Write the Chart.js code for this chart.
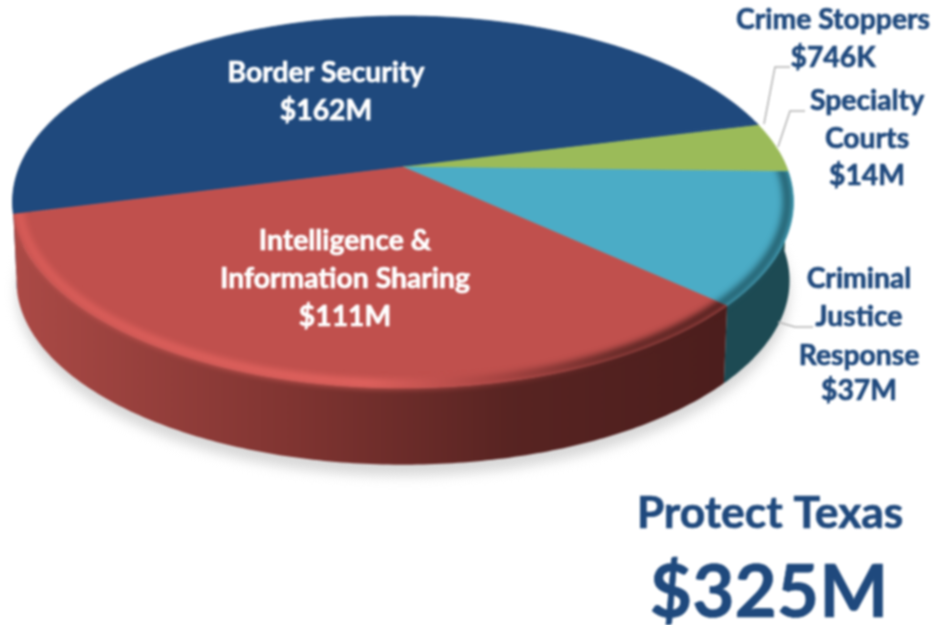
<!DOCTYPE html>
<html>
<head>
<meta charset="utf-8">
<title>Protect Texas</title>
<script src="https://cdn.jsdelivr.net/npm/chart.js@4/dist/chart.umd.min.js"></script>
<style>
html,body{margin:0;padding:0;background:#fff;overflow:hidden;}
canvas{display:block;filter:blur(0.8px);}
</style>
</head>
<body>
<canvas id="pie" width="947" height="625"></canvas>
<script>
// =========================
// Data
// =========================
const categories = ["Border Security","Crime Stoppers","Specialty Courts","Criminal Justice Response","Intelligence & Information Sharing"];
const values = [162,0.746,14,37,111];
const valueLabels = ["$162M","$746K","$14M","$37M","$111M"];
const title = "Protect Texas";
const total = "$325M";

// =========================
// Look
// =========================
const faceColors = ["#1f497d","#1f497d","#9bbb59","#4bacc6","#c0504d"];
const navy = "#1f497d";
const font = "Lato, 'Open Sans', sans-serif";

// the pie is tilted: circle angles go through a perspective mapping
const CX = 403, CY = 167, A = 179.4, B = 383.5, K = -0.188;
const DEPTH = 79, BOTTOM_SCALE = 0.99;
const RIM_FROM = -0.1, RIM_TO = Math.PI + 0.1;

function project(angle, r, dy, s){
    const u = Math.cos(angle) * r;
    const v = Math.sin(angle) * r;
    const d = 1 + K * v;
    return [CX + B * s * u / d, CY + dy + A * s * v / d];
}

function edge(ctx, a0, a1, r, dy, s, first){
    const steps = Math.max(2, Math.ceil(Math.abs(a1 - a0) * 80));
    for(let i = 0; i <= steps; i++){
        const p = project(a0 + (a1 - a0) * i / steps, r, dy, s);
        if(i === 0 && first) ctx.moveTo(p[0], p[1]);
        else ctx.lineTo(p[0], p[1]);
    }
}

function wedge(ctx, arc){
    const c = project(0, 0, 0, 1);
    ctx.moveTo(c[0], c[1]);
    edge(ctx, arc.startAngle, arc.endAngle, 1, 0, 1, false);
    ctx.closePath();
}

// the visible part of an arc's rim, as [from, to] ranges
function rimRanges(arc){
    const out = [];
    [0, Math.PI * 2, -Math.PI * 2].forEach(function(shift){
        const a0 = Math.max(arc.startAngle + shift, RIM_FROM);
        const a1 = Math.min(arc.endAngle + shift, RIM_TO);
        if(a1 > a0) out.push([a0, a1]);
    });
    return out;
}

function rim(ctx, range){
    edge(ctx, range[0], range[1], 1, 0, 1, true);
    edge(ctx, range[1], range[0], 1, DEPTH, BOTTOM_SCALE, false);
    ctx.closePath();
}

function horizontal(ctx, x0, x1, stops){
    const g = ctx.createLinearGradient(x0, 0, x1, 0);
    stops.forEach(function(s){ g.addColorStop(s[0], s[1]); });
    return g;
}

// =========================
// 3D pie drawn from the chart's own arc elements
// =========================
const pie3d = {
    id: "pie3d",
    beforeDatasetDraw(chart){
        const ctx = chart.ctx;
        const arcs = chart.getDatasetMeta(0).data;

        // soft shadow under the pie
        ctx.save();
        ctx.filter = "blur(6px)";
        ctx.fillStyle = "#d8d8d8";
        ctx.beginPath();
        edge(ctx, 0, Math.PI * 2, 1, DEPTH + 11, BOTTOM_SCALE, true);
        ctx.closePath();
        ctx.fill();
        ctx.restore();

        const rimFill = [
            "#1b4270",
            "#1b4270",
            "#55682f",
            "#1d4a53",
            horizontal(ctx, 13, 722, [[0,"#ab4a46"],[0.4,"#7f3431"],[0.7,"#582422"],[1,"#4c1e1d"]])
        ];

        // rim
        arcs.forEach(function(arc, i){
            rimRanges(arc).forEach(function(range){
                ctx.beginPath();
                rim(ctx, range);
                ctx.fillStyle = rimFill[i];
                ctx.fill();
            });
        });

        // top face
        arcs.forEach(function(arc, i){
            ctx.beginPath();
            wedge(ctx, arc);
            ctx.fillStyle = faceColors[i];
            ctx.strokeStyle = faceColors[i];
            ctx.lineWidth = 0.7;
            ctx.fill();
            ctx.stroke();
        });

        // bevel along the front edge, kept inside the slice and its rim
        const bevel = [
            null,
            null,
            null,
            "#24606f",
            horizontal(ctx, 13, 722, [[0,"#d85c58"],[0.5,"#e2635f"],[0.68,"#a54341"],[0.85,"#5c2624"],[1,"#4c1e1d"]])
        ];
        arcs.forEach(function(arc, i){
            if(!bevel[i]) return;
            ctx.save();
            ctx.beginPath();
            wedge(ctx, arc);
            rimRanges(arc).forEach(function(range){ rim(ctx, range); });
            ctx.clip();
            ctx.filter = "blur(3px)";
            ctx.beginPath();
            edge(ctx, arc.startAngle - 0.05, arc.endAngle + 0.05, 0.985, 0, 1, true);
            ctx.strokeStyle = bevel[i];
            ctx.lineWidth = 9;
            ctx.stroke();
            ctx.restore();
        });

        return false;
    },
    afterDraw(chart){
        const ctx = chart.ctx;

        //-------------------------
        // Leader lines
        //-------------------------
        ctx.strokeStyle = "#b4b4b4";
        ctx.lineWidth = 1.5;
        [
            [[764,124],[775,67],[790,67]],
            [[778,147],[790,111],[805,111]],
            [[778,322],[795,327],[813,327]]
        ].forEach(function(line){
            ctx.beginPath();
            line.forEach(function(p, i){
                if(i === 0) ctx.moveTo(p[0], p[1]);
                else ctx.lineTo(p[0], p[1]);
            });
            ctx.stroke();
        });

        //-------------------------
        // Labels
        //-------------------------
        ctx.textAlign = "center";
        ctx.textBaseline = "middle";
        ctx.lineJoin = "round";

        function text(str, x, y, size, color){
            ctx.font = "bold " + size + "px " + font;
            ctx.fillStyle = color;
            ctx.strokeStyle = color;
            ctx.lineWidth = 0.7;
            ctx.fillText(str, x, y + 1);
            ctx.strokeText(str, x, y + 1);
        }

        text("Border Security", 326, 72, 28.3, "#fff");
        text(valueLabels[0], 326, 110, 28.3, "#fff");

        text("Intelligence &", 345, 240, 28.3, "#fff");
        text("Information Sharing", 345, 278, 28.3, "#fff");
        text(valueLabels[4], 345, 316, 28.3, "#fff");

        text("Crime Stoppers", 833, 19, 28.3, navy);
        text(valueLabels[1], 833, 57, 28.3, navy);

        text("Specialty", 867, 100, 28.3, navy);
        text("Courts", 867, 138, 28.3, navy);
        text(valueLabels[2], 867, 175, 28.3, navy);

        text("Criminal", 859, 278, 28.3, navy);
        text("Justice", 859, 316, 28.3, navy);
        text("Response", 859, 355, 28.3, navy);
        text(valueLabels[3], 859, 390, 28.3, navy);

        text(title, 770, 513, 44.4, navy);
        text(total, 769, 592, 73, navy);
    }
};

// =========================
// Chart
// =========================
new Chart(document.getElementById("pie"),{

    type:"pie",

    data:{
        labels:categories,
        datasets:[{
            data:values,
            backgroundColor:faceColors,
            borderWidth:0
        }]
    },

    options:{
        responsive:false,
        animation:false,
        rotation:255.5,
        plugins:{
            legend:{display:false},
            tooltip:{enabled:false}
        }
    },

    plugins:[pie3d]

});
</script>
</body>
</html>
